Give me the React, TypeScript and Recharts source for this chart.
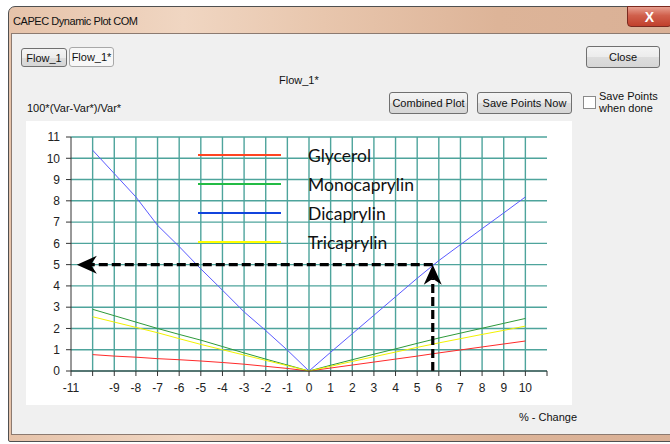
import React from 'react';
import {
  LineChart,
  Line,
  XAxis,
  YAxis,
  CartesianGrid,
  Legend,
  ReferenceLine,
} from 'recharts';

// x positions (% change)
const xValues = [-10, -9, -8, -7, -6, -5, -4, -3, -2, -1, 0, 1, 2, 3, 4, 5, 6, 7, 8, 9, 10];

// 100*(Var-Var*)/Var* for each component
const glycerol = [0.77, 0.7, 0.65, 0.58, 0.53, 0.47, 0.4, 0.32, 0.22, 0.12, 0, 0.14, 0.28, 0.42, 0.56, 0.7, 0.85, 0.99, 1.13, 1.27, 1.41];
const monocaprylin = [2.9, 2.6, 2.3, 2.0, 1.72, 1.45, 1.15, 0.85, 0.56, 0.28, 0, 0.27, 0.53, 0.79, 1.04, 1.3, 1.55, 1.78, 2.01, 2.24, 2.47];
const dicaprylin = [10.38, 9.28, 8.18, 6.85, 5.85, 4.8, 3.8, 2.78, 1.9, 0.98, 0, 0.88, 1.75, 2.62, 3.49, 4.36, 5.19, 5.94, 6.69, 7.43, 8.18];
const tricaprylin = [2.55, 2.3, 2.05, 1.8, 1.52, 1.25, 1.0, 0.75, 0.5, 0.25, 0, 0.22, 0.45, 0.67, 0.89, 1.11, 1.32, 1.52, 1.72, 1.91, 2.11];

const seriesNames = ['Glycerol', 'Monocaprylin', 'Dicaprylin', 'Tricaprylin'];
const seriesColors = ['#ff2a2a', '#2e9a3a', '#5a5aff', '#f2f200'];
const legendColors = ['#ff4422', '#22bb44', '#1144dd', '#ffff00'];

const xTicks = [-11, -10, -9, -8, -7, -6, -5, -4, -3, -2, -1, 0, 1, 2, 3, 4, 5, 6, 7, 8, 9, 10, 11];
const xGrid = [-10, -9, -8, -7, -6, -5, -4, -3, -2, -1, 0, 1, 2, 3, 4, 5, 6, 7, 8, 9, 10];
const yTicks = [0, 1, 2, 3, 4, 5, 6, 7, 8, 9, 10, 11];

// the dashed read-off arrows
const readX = 5.72;
const readY = 5;
const arrowEndX = -10.73;

const data = xValues.map((x, i) => ({
  x,
  Glycerol: glycerol[i],
  Monocaprylin: monocaprylin[i],
  Dicaprylin: dicaprylin[i],
  Tricaprylin: tricaprylin[i],
}));

const uiFont = '"Liberation Sans", Arial, sans-serif';

const ArrowLine = (props: any) => {
  const { x1, y1, x2, y2 } = props;
  // arrowhead at (x2, y2) pointing away from (x1, y1)
  const dx = x2 - x1;
  const dy = y2 - y1;
  const len = Math.sqrt(dx * dx + dy * dy) || 1;
  const ux = dx / len;
  const uy = dy / len;
  const px = -uy;
  const py = ux;
  const back = 20;
  const notch = 14;
  const half = 9;
  const pts = [
    [x2, y2],
    [x2 - ux * back + px * half, y2 - uy * back + py * half],
    [x2 - ux * notch, y2 - uy * notch],
    [x2 - ux * back - px * half, y2 - uy * back - py * half],
  ]
    .map((p) => p.join(','))
    .join(' ');
  return (
    <g>
      <line
        x1={x1}
        y1={y1}
        x2={x2 - ux * notch}
        y2={y2 - uy * notch}
        stroke="#000"
        strokeWidth={3.2}
        strokeDasharray="9 4"
      />
      <polygon points={pts} fill="#000" />
    </g>
  );
};

const renderLegend = () => (
  <div style={{ width: 240 }}>
    {seriesNames.map((name, i) => (
      <div key={name} style={{ position: 'relative', height: 29 }}>
        <div
          style={{
            position: 'absolute',
            left: 0,
            top: 5,
            width: 83,
            height: 2,
            background: legendColors[i],
          }}
        />
        <div
          style={{
            position: 'absolute',
            left: 110,
            top: -5,
            fontFamily: 'Lato, "Open Sans", sans-serif',
            fontSize: 17.5,
            lineHeight: '24px',
            color: '#111',
            whiteSpace: 'nowrap',
          }}
        >
          {name}
        </div>
      </div>
    ))}
  </div>
);

const Button = ({ left, top, width, height, label, pressed = false }: any) => (
  <div
    style={{
      position: 'absolute',
      left,
      top,
      width,
      height,
      boxSizing: 'border-box',
      border: pressed ? '1px solid #a8a8a8' : '1px solid #707070',
      borderRadius: 3,
      background: pressed
        ? '#f7f7f7'
        : 'linear-gradient(#f4f4f4 0%, #ececec 50%, #dddddd 51%, #d6d6d6 100%)',
      fontSize: 11,
      color: '#111',
      display: 'flex',
      alignItems: 'center',
      justifyContent: 'center',
      fontFamily: uiFont,
    }}
  >
    {label}
  </div>
);

export default function App() {
  return (
    <div
      style={{
        position: 'absolute',
        left: 0,
        top: 0,
        width: 670,
        height: 444,
        overflow: 'hidden',
        background: '#ffffff',
        fontFamily: uiFont,
      }}
    >
      {/* window frame */}
      <div
        style={{
          position: 'absolute',
          left: 8,
          top: 6,
          width: 700,
          height: 436,
          boxSizing: 'border-box',
          border: '1px solid #505050',
          borderRadius: '7px 7px 2px 2px',
          background:
            'linear-gradient(90deg, #e6c3aa 0%, #f0d6c2 25%, #e8c6ad 45%, #ddb498 70%, #d9b096 100%)',
        }}
      />
      <div
        style={{
          position: 'absolute',
          left: 13,
          top: 15,
          fontSize: 11,
          color: '#111',
          letterSpacing: -0.45,
        }}
      >
        CAPEC Dynamic Plot COM
      </div>
      {/* close x */}
      <div
        style={{
          position: 'absolute',
          left: 627,
          top: 6,
          width: 45,
          height: 21,
          boxSizing: 'border-box',
          border: '1px solid #7a2a20',
          borderRadius: '0 0 4px 4px',
          background: 'linear-gradient(#e8a090 0%, #d0604c 45%, #c0402c 100%)',
          color: '#fff',
          fontWeight: 'bold',
          fontSize: 14,
          display: 'flex',
          alignItems: 'center',
          justifyContent: 'center',
        }}
      >
        X
      </div>
      {/* client area */}
      <div
        style={{
          position: 'absolute',
          left: 11,
          top: 33,
          width: 680,
          height: 402,
          boxSizing: 'border-box',
          border: '1px solid #8c7a70',
          background: '#f0f0f0',
        }}
      />
      <Button left={21} top={48} width={46} height={19} label="Flow_1" />
      <Button left={69} top={47} width={45} height={20} label="Flow_1*" pressed />
      <Button left={586} top={46} width={74} height={22} label="Close" />
      <Button left={389} top={92} width={79} height={22} label="Combined Plot" />
      <Button left={477} top={92} width={95} height={22} label="Save Points Now" />
      <div style={{ position: 'absolute', left: 279, top: 74, fontSize: 11, color: '#111' }}>
        Flow_1*
      </div>
      <div style={{ position: 'absolute', left: 27, top: 102, fontSize: 11, color: '#111' }}>
        100*(Var-Var*)/Var*
      </div>
      <div
        style={{
          position: 'absolute',
          left: 583,
          top: 96,
          width: 13,
          height: 13,
          boxSizing: 'border-box',
          border: '1px solid #8a8a8a',
          background: '#fff',
        }}
      />
      <div
        style={{
          position: 'absolute',
          left: 599,
          top: 90,
          fontSize: 11,
          lineHeight: '12px',
          color: '#111',
        }}
      >
        Save Points
        <br />
        when done
      </div>
      <div style={{ position: 'absolute', left: 519, top: 411, fontSize: 11, color: '#111' }}>
        % - Change
      </div>

      {/* plot */}
      <div style={{ position: 'absolute', left: 26, top: 121, width: 546, height: 284, background: '#fff' }}>
        <LineChart
          width={546}
          height={284}
          data={data}
          margin={{ top: 16, right: 25, left: 0, bottom: 0 }}
        >
          <CartesianGrid
            stroke="#4ea49c"
            strokeWidth={1.4}
            verticalValues={xGrid}
            horizontalValues={yTicks}
          />
          <XAxis
            type="number"
            dataKey="x"
            domain={[-11, 11]}
            ticks={xTicks}
            interval={0}
            allowDataOverflow
            height={34}
            tickSize={5}
            tickMargin={7}
            stroke="#333"
            tickFormatter={(v: number) => (v === -10 || v === 11 ? '' : String(v))}
            tick={{ fontSize: 12, fill: '#222', fontFamily: uiFont }}
          />
          <YAxis
            type="number"
            domain={[0, 11]}
            ticks={yTicks}
            interval={0}
            width={45}
            tickSize={5}
            tickMargin={6}
            stroke="#333"
            tick={{ fontSize: 12, fill: '#222', fontFamily: uiFont }}
          />
          <Legend
            layout="vertical"
            align="center"
            verticalAlign="middle"
            content={renderLegend}
            wrapperStyle={{ left: 172, top: 28, width: 240 }}
          />
          {seriesNames.map((name, i) => (
            <Line
              key={name}
              type="linear"
              dataKey={name}
              stroke={seriesColors[i]}
              strokeWidth={1}
              dot={false}
              isAnimationActive={false}
            />
          ))}
          <ReferenceLine
            segment={[
              { x: readX, y: 0 },
              { x: readX, y: readY },
            ]}
            shape={ArrowLine}
          />
          <ReferenceLine
            segment={[
              { x: readX, y: readY },
              { x: arrowEndX, y: readY },
            ]}
            shape={ArrowLine}
          />
        </LineChart>
      </div>
    </div>
  );
}
